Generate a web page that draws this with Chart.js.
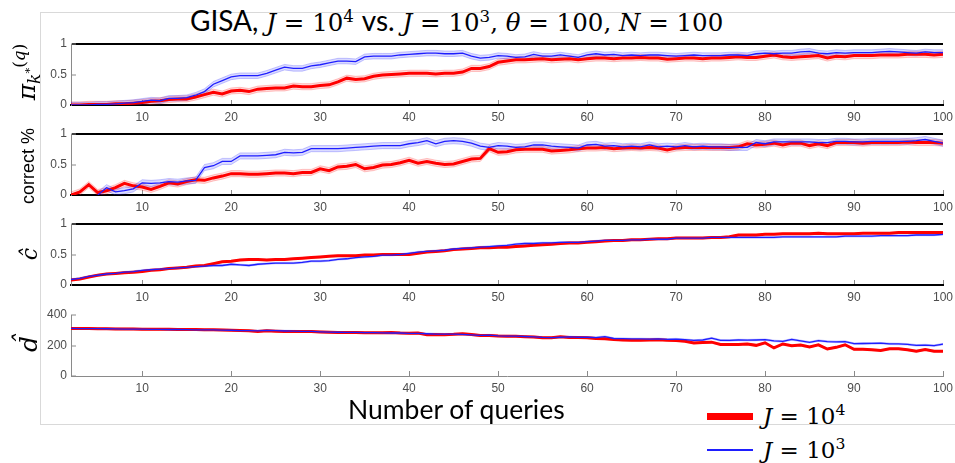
<!DOCTYPE html>
<html>
<head>
<meta charset="utf-8">
<script src="https://cdn.jsdelivr.net/npm/chart.js@4.4.1/dist/chart.umd.min.js"></script>
<style>
  body { margin: 0; width: 955px; height: 463px; background: #fff; position: relative; overflow: hidden; }
  .frame { position: absolute; left: 40px; top: 12px; width: 915px; height: 411px;
           border-left: 1px solid #d9d9d9; border-top: 1px solid #d9d9d9; border-bottom: 1px solid #d9d9d9; }
  canvas.panel { position: absolute; left: 20px; }
  .mth { font-family: "DejaVu Serif", serif; }
  .txt { font-family: Lato, "Liberation Sans", sans-serif; }
  sup { font-size: 0.68em; vertical-align: 0.55em; line-height: 0; }
  sub { font-size: 0.68em; vertical-align: -0.3em; line-height: 0; }
  #title { position: absolute; left: 190px; top: 3px; font-size: 24.5px; white-space: nowrap; color: #000; }
  #title .txt { font-size: 28px; }
  .ylab { position: absolute; transform: translate(-50%, -50%) rotate(-90deg); white-space: nowrap; color: #000; }
  #xlab { position: absolute; left: 348px; top: 393px; font-size: 26.5px; white-space: nowrap; }
  .key { position: absolute; left: 707px; width: 46px; }
  .keytxt { position: absolute; left: 763px; font-size: 23px; white-space: nowrap; }
</style>
</head>
<body>
<div class="frame"></div>
<div id="title" class="mth"><span class="txt">GISA,</span> <i>J</i> = 10<sup>4</sup> <span class="txt">vs.</span> <i>J</i> = 10<sup>3</sup>, <i>θ</i> = 100, <i>N</i> = 100</div>

<canvas id="c1" class="panel" width="935" height="95" style="top:34px"></canvas>
<canvas id="c2" class="panel" width="935" height="95" style="top:124px"></canvas>
<canvas id="c3" class="panel" width="935" height="95" style="top:214px"></canvas>
<canvas id="c4" class="panel" width="935" height="95" style="top:305px"></canvas>

<div class="ylab mth" style="left:26px; top:72px; font-size:25px"><i>π</i><sub><i>k</i><sup>*</sup></sub><sup>(<i>q</i>)</sup></div>
<div class="ylab" style="left:28px; top:166px; font-size:18px; font-family:'Liberation Sans', sans-serif">correct %</div>
<div class="ylab mth" style="left:29px; top:254px; font-size:22px"><i>ĉ</i></div>
<div class="ylab mth" style="left:28px; top:344px; font-size:25px"><i>d̂</i></div>

<div id="xlab" class="txt">Number of queries</div>

<div class="key" style="top:413px; height:7px; background:#ff0000"></div>
<div class="keytxt mth" style="top:403px"><i>J</i> = 10<sup>4</sup></div>
<div class="key" style="top:449px; height:2px; background:#1e1eff"></div>
<div class="keytxt mth" style="top:437px"><i>J</i> = 10<sup>3</sup></div>

<script>
const queries = [2, 3, 4, 5, 6, 7, 8, 9,
  10, 11, 12, 13, 14, 15, 16, 17, 18, 19,
  20, 21, 22, 23, 24, 25, 26, 27, 28, 29,
  30, 31, 32, 33, 34, 35, 36, 37, 38, 39,
  40, 41, 42, 43, 44, 45, 46, 47, 48, 49,
  50, 51, 52, 53, 54, 55, 56, 57, 58, 59,
  60, 61, 62, 63, 64, 65, 66, 67, 68, 69,
  70, 71, 72, 73, 74, 75, 76, 77, 78, 79,
  80, 81, 82, 83, 84, 85, 86, 87, 88, 89,
  90, 91, 92, 93, 94, 95, 96, 97, 98, 99,
  100];

// pi_k*(q)
const piRed = [0.00, 0.00, 0.01, 0.01, 0.01, 0.02, 0.02, 0.03,
  0.04, 0.06, 0.07, 0.09, 0.10, 0.10, 0.13, 0.17, 0.21, 0.18,
  0.23, 0.24, 0.22, 0.26, 0.27, 0.28, 0.28, 0.31, 0.30, 0.30,
  0.32, 0.33, 0.38, 0.44, 0.42, 0.43, 0.47, 0.49, 0.50, 0.51,
  0.52, 0.52, 0.52, 0.51, 0.52, 0.52, 0.54, 0.60, 0.60, 0.63,
  0.70, 0.72, 0.74, 0.74, 0.75, 0.76, 0.74, 0.75, 0.76, 0.74,
  0.76, 0.77, 0.77, 0.76, 0.77, 0.77, 0.78, 0.77, 0.77, 0.75,
  0.76, 0.77, 0.77, 0.76, 0.77, 0.77, 0.78, 0.79, 0.78, 0.78,
  0.80, 0.82, 0.79, 0.78, 0.79, 0.80, 0.81, 0.77, 0.80, 0.79,
  0.81, 0.81, 0.81, 0.82, 0.82, 0.82, 0.83, 0.83, 0.83, 0.82,
  0.83];
const piBlue = [0.00, 0.00, 0.00, 0.01, 0.01, 0.02, 0.03, 0.04,
  0.06, 0.08, 0.07, 0.11, 0.11, 0.12, 0.16, 0.22, 0.34, 0.40,
  0.46, 0.48, 0.48, 0.48, 0.52, 0.57, 0.62, 0.60, 0.60, 0.64,
  0.66, 0.69, 0.72, 0.72, 0.71, 0.79, 0.80, 0.80, 0.80, 0.82,
  0.83, 0.84, 0.85, 0.85, 0.84, 0.84, 0.85, 0.80, 0.77, 0.78,
  0.81, 0.80, 0.78, 0.79, 0.83, 0.80, 0.80, 0.82, 0.80, 0.78,
  0.82, 0.84, 0.82, 0.83, 0.81, 0.82, 0.81, 0.82, 0.82, 0.81,
  0.80, 0.81, 0.82, 0.81, 0.81, 0.81, 0.82, 0.82, 0.81, 0.84,
  0.85, 0.84, 0.85, 0.85, 0.87, 0.88, 0.85, 0.84, 0.86, 0.85,
  0.86, 0.86, 0.86, 0.87, 0.88, 0.87, 0.86, 0.85, 0.87, 0.86,
  0.86];

// correct %
const corrRed = [0.00, 0.05, 0.17, 0.04, 0.07, 0.12, 0.19, 0.15,
  0.13, 0.09, 0.14, 0.20, 0.18, 0.22, 0.25, 0.24, 0.28, 0.31,
  0.35, 0.35, 0.34, 0.34, 0.35, 0.36, 0.36, 0.35, 0.37, 0.37,
  0.43, 0.40, 0.46, 0.47, 0.50, 0.43, 0.45, 0.49, 0.50, 0.53,
  0.57, 0.52, 0.55, 0.52, 0.50, 0.51, 0.55, 0.59, 0.60, 0.76,
  0.70, 0.71, 0.74, 0.75, 0.75, 0.75, 0.72, 0.73, 0.74, 0.76,
  0.77, 0.77, 0.78, 0.76, 0.77, 0.78, 0.77, 0.78, 0.77, 0.74,
  0.77, 0.78, 0.78, 0.78, 0.78, 0.78, 0.78, 0.79, 0.84, 0.82,
  0.83, 0.85, 0.82, 0.85, 0.85, 0.81, 0.84, 0.81, 0.86, 0.86,
  0.86, 0.85, 0.86, 0.86, 0.86, 0.86, 0.87, 0.86, 0.86, 0.86,
  0.85];
const corrBlue = [null, null, null, 0.00, 0.12, 0.05, 0.07, 0.10,
  0.20, 0.19, 0.20, 0.22, 0.21, 0.23, 0.24, 0.45, 0.48, 0.55,
  0.55, 0.64, 0.64, 0.64, 0.65, 0.66, 0.70, 0.69, 0.70, 0.76,
  0.76, 0.76, 0.76, 0.77, 0.78, 0.79, 0.80, 0.81, 0.81, 0.81,
  0.84, 0.86, 0.89, 0.84, 0.88, 0.89, 0.88, 0.85, 0.80, 0.78,
  0.81, 0.80, 0.78, 0.79, 0.82, 0.82, 0.80, 0.79, 0.78, 0.77,
  0.82, 0.83, 0.80, 0.81, 0.79, 0.80, 0.79, 0.82, 0.79, 0.80,
  0.79, 0.81, 0.79, 0.80, 0.79, 0.79, 0.78, 0.78, 0.78, 0.86,
  0.84, 0.87, 0.87, 0.87, 0.87, 0.87, 0.86, 0.86, 0.88, 0.88,
  0.87, 0.87, 0.88, 0.88, 0.88, 0.88, 0.88, 0.89, 0.91, 0.88,
  0.85];

// c hat
const cRed = [0.08, 0.10, 0.13, 0.16, 0.18, 0.19, 0.20, 0.21,
  0.22, 0.24, 0.25, 0.27, 0.28, 0.29, 0.31, 0.32, 0.35, 0.38,
  0.39, 0.41, 0.42, 0.42, 0.41, 0.42, 0.42, 0.43, 0.44, 0.45,
  0.46, 0.47, 0.48, 0.48, 0.48, 0.49, 0.49, 0.50, 0.50, 0.50,
  0.50, 0.52, 0.54, 0.55, 0.56, 0.58, 0.59, 0.60, 0.61, 0.61,
  0.62, 0.62, 0.63, 0.64, 0.65, 0.66, 0.67, 0.68, 0.69, 0.69,
  0.70, 0.71, 0.72, 0.73, 0.73, 0.74, 0.74, 0.75, 0.76, 0.76,
  0.77, 0.77, 0.77, 0.77, 0.78, 0.78, 0.79, 0.82, 0.82, 0.82,
  0.83, 0.83, 0.84, 0.84, 0.84, 0.84, 0.85, 0.84, 0.84, 0.84,
  0.84, 0.85, 0.85, 0.85, 0.85, 0.86, 0.86, 0.86, 0.86, 0.86,
  0.86];
const cBlue = [0.09, 0.11, 0.14, 0.16, 0.18, 0.19, 0.21, 0.22,
  0.24, 0.25, 0.26, 0.27, 0.28, 0.29, 0.30, 0.31, 0.32, 0.32,
  0.34, 0.33, 0.32, 0.34, 0.35, 0.36, 0.36, 0.36, 0.37, 0.39,
  0.39, 0.40, 0.42, 0.43, 0.45, 0.46, 0.47, 0.49, 0.49, 0.50,
  0.52, 0.54, 0.55, 0.56, 0.57, 0.59, 0.60, 0.61, 0.62, 0.63,
  0.64, 0.65, 0.67, 0.68, 0.68, 0.69, 0.69, 0.70, 0.70, 0.70,
  0.71, 0.72, 0.73, 0.73, 0.73, 0.74, 0.74, 0.75, 0.75, 0.75,
  0.77, 0.77, 0.77, 0.77, 0.78, 0.78, 0.78, 0.78, 0.78, 0.78,
  0.78, 0.78, 0.79, 0.79, 0.79, 0.79, 0.79, 0.79, 0.79, 0.80,
  0.80, 0.80, 0.80, 0.81, 0.81, 0.81, 0.81, 0.82, 0.82, 0.82,
  0.83];

// d hat
const dRed = [312, 311, 311, 310, 310, 309, 309, 308,
  307, 307, 306, 306, 305, 305, 305, 304, 303, 302,
  300, 298, 296, 292, 296, 294, 292, 291, 291, 291,
  289, 287, 286, 286, 286, 284, 283, 283, 285, 282,
  281, 282, 271, 272, 271, 273, 277, 272, 266, 265,
  262, 261, 260, 258, 256, 251, 251, 258, 252, 252,
  251, 246, 245, 240, 236, 235, 234, 236, 238, 234,
  233, 228, 217, 220, 222, 207, 206, 207, 210, 201,
  218, 184, 210, 198, 203, 191, 204, 177, 188, 205,
  175, 175, 172, 168, 178, 179, 172, 162, 174, 162,
  162];
const dBlue = [312, 311, 311, 310, 310, 309, 308, 308,
  307, 306, 306, 305, 305, 304, 303, 302, 302, 301,
  300, 298, 297, 296, 299, 297, 295, 294, 293, 293,
  290, 288, 287, 286, 286, 284, 284, 283, 282, 282,
  280, 279, 277, 275, 274, 274, 273, 270, 266, 268,
  263, 262, 261, 259, 257, 253, 252, 254, 256, 254,
  254, 252, 258, 246, 245, 243, 243, 242, 243, 240,
  242, 238, 233, 236, 248, 234, 233, 236, 235, 236,
  238, 230, 227, 240, 230, 221, 232, 226, 224, 226,
  212, 213, 214, 215, 211, 210, 208, 201, 203, 199,
  209];

// half width of the shaded bands
const piRedSe = 0.05, piBlueSe = 0.045;
const corrRedSe = 0.05, corrBlueSe = 0.05;
const cRedSe = 0.012, cBlueSe = 0.012;
const dRedSe = 5, dBlueSe = 5;

const yTicksUnit = [0, 0.5, 1];
const yTicksD = [0, 200, 400];

let band = (mean, se, sign) => mean.map(v => v === null ? null : v + sign * se);

let makePanel = (id, red, redSe, blue, blueSe, yTicks, boxed) => {
  const yMax = yTicks[yTicks.length - 1];
  const gray = '#8a8a8a';
  const tickFont = { family: "'Liberation Sans', sans-serif", size: 12 };

  return new Chart(document.getElementById(id), {
    type: 'line',
    data: {
      labels: queries,
      datasets: [
        { data: blue, borderColor: 'rgb(30,30,255)', borderWidth: 1.3 },
        { data: red, borderColor: 'rgb(255,0,0)', borderWidth: 3 },
        { data: band(blue, blueSe, 1), borderColor: 'rgba(40,40,255,0.25)', borderWidth: 1,
          backgroundColor: 'rgba(0,0,255,0.14)', fill: '+1' },
        { data: band(blue, blueSe, -1), borderColor: 'rgba(40,40,255,0.25)', borderWidth: 1, fill: false },
        { data: band(red, redSe, 1), borderColor: 'rgba(255,40,40,0.25)', borderWidth: 1,
          backgroundColor: 'rgba(255,0,0,0.14)', fill: '+1' },
        { data: band(red, redSe, -1), borderColor: 'rgba(255,40,40,0.25)', borderWidth: 1, fill: false }
      ]
    },
    options: {
      animation: false,
      responsive: false,
      layout: { padding: { top: 10, right: 12, left: 0, bottom: 0 } },
      elements: { point: { radius: 0 }, line: { tension: 0 } },
      plugins: { legend: { display: false }, tooltip: { enabled: false } },
      scales: {
        x: {
          type: 'linear', min: 2, max: 100,
          afterBuildTicks: (s) => { s.ticks = s.ticks.filter(t => t.value % 10 === 0); },
          afterFit: (s) => { s.height = 24; s.paddingLeft = 0; s.paddingRight = 0; },
          border: { color: boxed ? '#000' : gray, width: boxed ? 2 : 1 },
          grid: { drawOnChartArea: false, tickLength: -5, tickColor: gray, tickWidth: 1 },
          ticks: { stepSize: 10, padding: 10, color: '#4d4d4d', font: tickFont, maxRotation: 0, autoSkip: false }
        },
        y: {
          min: 0, max: yMax,
          afterBuildTicks: (s) => { s.ticks = yTicks.map(v => ({ value: v })); },
          afterFit: (s) => { s.width = 51; s.paddingTop = 0; s.paddingBottom = 0; },
          border: { color: gray, width: 1 },
          grid: {
            color: (ctx) => (boxed && ctx.tick && ctx.tick.value === yMax) ? '#000' : 'rgba(0,0,0,0)',
            lineWidth: 2, tickLength: -5, tickColor: gray, tickWidth: 1
          },
          ticks: { padding: 9, color: '#4d4d4d', font: tickFont, callback: (v) => String(v) }
        }
      }
    }
  });
};

makePanel('c1', piRed, piRedSe, piBlue, piBlueSe, yTicksUnit, true);
makePanel('c2', corrRed, corrRedSe, corrBlue, corrBlueSe, yTicksUnit, true);
makePanel('c3', cRed, cRedSe, cBlue, cBlueSe, yTicksUnit, true);
makePanel('c4', dRed, dRedSe, dBlue, dBlueSe, yTicksD, false);
</script>
</body>
</html>
